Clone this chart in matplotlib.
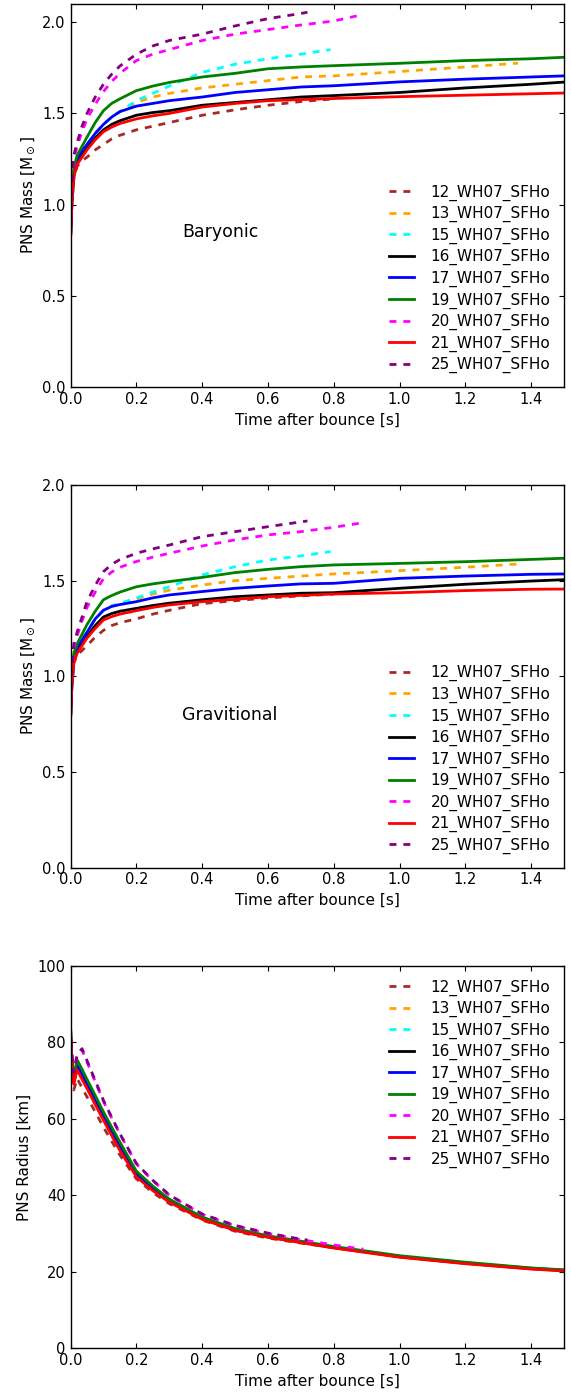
import matplotlib
matplotlib.use("Agg")
import matplotlib.pyplot as plt
from matplotlib.ticker import MultipleLocator

# common time grid [s]; each model stops at its own end time
grid = [0.0, 0.004, 0.01, 0.02, 0.035, 0.05, 0.075, 0.1, 0.125, 0.15, 0.2, 0.25, 0.3,
        0.4, 0.5, 0.6, 0.7, 0.8, 1.0, 1.2, 1.4, 1.5]

models = ["12", "13", "15", "16", "17", "19", "20", "21", "25"]
colors = ["brown", "orange", "cyan", "black", "blue", "green", "magenta", "red", "purple"]
dashed = [True, True, True, False, False, False, True, False, True]
t_end = [0.80, 1.36, 0.79, 1.5, 1.5, 1.5, 0.89, 1.5, 0.72]

# baryonic PNS mass [Msun]
m_bary = {
    "12": [0.81, 1.00, 1.14, 1.21, 1.24, 1.26, 1.30, 1.33, 1.36, 1.38, 1.41, 1.43, 1.45, 1.49,
           1.52, 1.545, 1.565, 1.58],
    "13": [0.82, 1.02, 1.18, 1.25, 1.295, 1.33, 1.39, 1.44, 1.48, 1.51, 1.56, 1.59, 1.61, 1.64,
           1.66, 1.68, 1.70, 1.706, 1.73, 1.755, 1.776],
    "15": [0.82, 1.02, 1.18, 1.25, 1.295, 1.33, 1.39, 1.44, 1.48, 1.51, 1.57, 1.61, 1.65, 1.725,
           1.77, 1.80, 1.825, 1.85],
    "16": [0.81, 1.00, 1.16, 1.23, 1.27, 1.31, 1.365, 1.41, 1.44, 1.46, 1.49, 1.505, 1.515, 1.545,
           1.56, 1.575, 1.59, 1.598, 1.615, 1.64, 1.66, 1.672],
    "17": [0.82, 1.02, 1.18, 1.25, 1.295, 1.33, 1.39, 1.44, 1.48, 1.51, 1.54, 1.555, 1.57, 1.59,
           1.615, 1.63, 1.645, 1.652, 1.673, 1.688, 1.70, 1.706],
    "19": [0.82, 1.04, 1.20, 1.27, 1.32, 1.37, 1.45, 1.515, 1.555, 1.58, 1.625, 1.65, 1.67, 1.70,
           1.72, 1.745, 1.755, 1.762, 1.775, 1.79, 1.80, 1.808],
    "20": [0.82, 1.08, 1.25, 1.32, 1.40, 1.47, 1.55, 1.62, 1.675, 1.72, 1.79, 1.825, 1.85, 1.90,
           1.935, 1.96, 1.985, 2.007, 2.043],
    "21": [0.81, 1.00, 1.15, 1.22, 1.26, 1.30, 1.355, 1.40, 1.425, 1.445, 1.47, 1.487, 1.50, 1.535,
           1.555, 1.57, 1.576, 1.582, 1.592, 1.60, 1.608, 1.612],
    "25": [0.82, 1.10, 1.27, 1.34, 1.43, 1.50, 1.59, 1.66, 1.715, 1.76, 1.825, 1.87, 1.90, 1.935,
           1.98, 2.02, 2.048, 2.055],
}

# gravitational PNS mass [Msun]
m_grav = {
    "12": [0.77, 0.95, 1.07, 1.11, 1.135, 1.16, 1.205, 1.24, 1.265, 1.28, 1.30, 1.325, 1.345, 1.38,
           1.395, 1.41, 1.42, 1.43],
    "13": [0.78, 0.97, 1.10, 1.15, 1.19, 1.23, 1.30, 1.345, 1.368, 1.38, 1.405, 1.43, 1.45, 1.477,
           1.50, 1.512, 1.524, 1.535, 1.552, 1.57, 1.587],
    "15": [0.78, 0.97, 1.10, 1.15, 1.19, 1.23, 1.30, 1.345, 1.368, 1.38, 1.41, 1.44, 1.468, 1.53,
           1.573, 1.608, 1.629, 1.652],
    "16": [0.77, 0.95, 1.08, 1.13, 1.17, 1.21, 1.265, 1.31, 1.328, 1.34, 1.355, 1.37, 1.382, 1.40,
           1.416, 1.425, 1.434, 1.437, 1.46, 1.481, 1.498, 1.505],
    "17": [0.78, 0.97, 1.10, 1.15, 1.19, 1.23, 1.30, 1.345, 1.365, 1.375, 1.39, 1.41, 1.425, 1.443,
           1.46, 1.472, 1.483, 1.486, 1.512, 1.524, 1.533, 1.535],
    "19": [0.78, 0.98, 1.12, 1.17, 1.22, 1.27, 1.34, 1.40, 1.422, 1.44, 1.468, 1.483, 1.495, 1.517,
           1.542, 1.559, 1.573, 1.582, 1.59, 1.599, 1.611, 1.617],
    "20": [0.78, 1.00, 1.15, 1.21, 1.29, 1.36, 1.44, 1.51, 1.545, 1.57, 1.60, 1.623, 1.643, 1.681,
           1.713, 1.739, 1.756, 1.779, 1.803],
    "21": [0.77, 0.95, 1.07, 1.12, 1.16, 1.20, 1.25, 1.294, 1.312, 1.325, 1.343, 1.36, 1.373, 1.39,
           1.402, 1.416, 1.423, 1.43, 1.437, 1.448, 1.455, 1.456],
    "25": [0.78, 1.02, 1.17, 1.23, 1.31, 1.39, 1.475, 1.547, 1.585, 1.61, 1.643, 1.666, 1.686, 1.73,
           1.756, 1.782, 1.807, 1.812],
}

# PNS radius [km]
radius = {
    "12": [82, 74, 67.5, 70.5, 68.1, 65.7, 61.8, 57.8, 54.1, 50.5, 44.3, 40.7, 37.8, 33.5,
           30.6, 28.8, 27.5, 26.3],
    "13": [83, 75, 69.5, 73.5, 71.1, 68.6, 64.6, 60.5, 56.4, 52.5, 45.5, 41.7, 38.5, 34.0,
           31.0, 29.2, 27.8, 26.4, 24.0, 22.3, 21.2],
    "15": [83, 75, 70, 74, 71.6, 69.1, 65.1, 61, 56.9, 53, 45.8, 41.9, 38.7, 34.1,
           31.1, 29.3, 27.9, 26.6],
    "16": [83, 75, 69.5, 73.5, 71.0, 68.5, 64.4, 60.3, 56.2, 52.3, 45.3, 41.5, 38.4, 33.9,
           30.9, 29.1, 27.7, 26.3, 23.9, 22.2, 20.8, 20.3],
    "17": [83, 75, 70, 74, 71.5, 69.1, 65.0, 60.8, 56.7, 52.8, 45.6, 41.8, 38.6, 34.0,
           31.0, 29.2, 27.8, 26.4, 24.0, 22.3, 20.9, 20.4],
    "19": [83.5, 76, 71, 75.4, 72.9, 70.3, 66.1, 61.8, 57.8, 53.9, 46.3, 42.4, 39.0, 34.3,
           31.3, 29.4, 28.0, 26.6, 24.2, 22.5, 21.0, 20.5],
    "20": [84, 77, 72, 76.5, 78.0, 74.9, 69.7, 64.5, 60.2, 56, 48.2, 43.8, 40.0, 35.0,
           32.0, 30.0, 28.4, 27.0, 25.9],
    "21": [83, 74.5, 69, 72.8, 70.3, 67.9, 63.7, 59.6, 55.6, 51.7, 44.8, 41.2, 38.2, 33.7,
           30.8, 29.0, 27.6, 26.2, 23.8, 22.1, 20.7, 20.2],
    "25": [84, 77, 72, 76.8, 78.3, 75.2, 70.0, 64.8, 60.4, 56.1, 48.3, 43.9, 40.1, 35.1,
           32.1, 30.1, 28.5, 28.3],
}

plt.rcParams.update({
    "font.family": "DejaVu Sans",
    "xtick.direction": "in",
    "ytick.direction": "in",
    "xtick.top": True,
    "ytick.right": True,
    "xtick.major.size": 3.5,
    "ytick.major.size": 3.5,
    "xtick.labelsize": 10.5,
    "ytick.labelsize": 10.5,
    "axes.labelsize": 11,
    "axes.linewidth": 1.0,
})


def times_for(tend):
    return [g for g in grid if g < tend - 1e-9] + [tend]


def draw_panel(ax, data, ylabel, legend_loc):
    for name, col, dsh, tend in zip(models, colors, dashed, t_end):
        t = times_for(tend)
        ls = (0, (2.5, 2.5)) if dsh else "-"
        ax.plot(t, data[name], color=col, ls=ls, lw=2.0, label=name + "_WH07_SFHo")
    ax.set_xlim(0, 1.5)
    ax.set_xlabel("Time after bounce [s]")
    ax.set_ylabel(ylabel)
    ax.legend(loc=legend_loc, frameon=False, fontsize=11, handlelength=1.6,
              handletextpad=1.1, labelspacing=0.35)


fig = plt.figure(figsize=(5.71, 13.92), dpi=100)
ax1 = fig.add_axes([0.1235, 0.722, 0.8645, 0.2751])
ax2 = fig.add_axes([0.1235, 0.3767, 0.8645, 0.2749])
ax3 = fig.add_axes([0.1235, 0.0314, 0.8645, 0.2749])

draw_panel(ax1, m_bary, r"PNS Mass [M$_\odot$]", "lower right")
ax1.set_ylim(0, 2.1)
ax1.yaxis.set_major_locator(MultipleLocator(0.5))
ax1.text(0.34, 0.85, "Baryonic", fontsize=12.5, va="center")

draw_panel(ax2, m_grav, r"PNS Mass [M$_\odot$]", "lower right")
ax2.set_ylim(0, 2.0)
ax2.yaxis.set_major_locator(MultipleLocator(0.5))
ax2.text(0.34, 0.80, "Gravitional", fontsize=12.5, va="center")

draw_panel(ax3, radius, "PNS Radius [km]", "upper right")
ax3.set_ylim(0, 100)
ax3.yaxis.set_major_locator(MultipleLocator(20))

fig.savefig("out.png", dpi=100)
